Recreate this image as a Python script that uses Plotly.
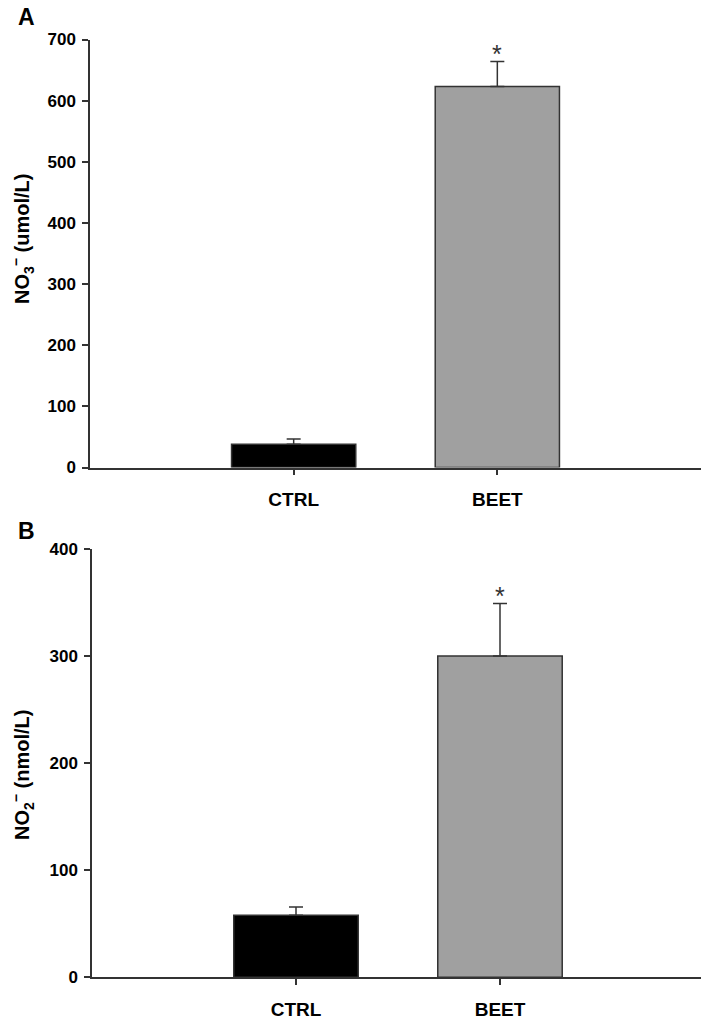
import plotly.graph_objects as go

categories = ["CTRL", "BEET"]
colors = ["#000000", "#a0a0a0"]

# Panel A: NO3- (umol/L)
no3_mean = [38, 623]
no3_se = [8.5, 41]
no3_sig = ["", "*"]

# Panel B: NO2- (nmol/L)
no2_mean = [58, 300]
no2_se = [7.7, 49]
no2_sig = ["", "*"]

yticks_a = [0, 100, 200, 300, 400, 500, 600, 700]
yticks_b = [0, 100, 200, 300, 400]

FONT = "Liberation Sans, Arial, sans-serif"
AX = "#333333"

# page offset (browser body margin) compensation
OFF = 8
W, H = 701, 1013


def px_x(p):
    return (p - OFF) / W


def px_y(p):
    return 1 - (p - OFF) / H


fig = go.Figure()

err_style = dict(type="data", symmetric=False, thickness=1.5, width=7, color=AX)

fig.add_trace(go.Bar(
    x=categories, y=no3_mean, width=0.61,
    marker=dict(color=colors, line=dict(color=AX, width=1.5)),
    error_y=dict(array=no3_se, arrayminus=[0, 0], **err_style),
    xaxis="x", yaxis="y", showlegend=False,
))
fig.add_trace(go.Bar(
    x=categories, y=no2_mean, width=0.61,
    marker=dict(color=colors, line=dict(color=AX, width=1.5)),
    error_y=dict(array=no2_se, arrayminus=[0, 0], **err_style),
    xaxis="x2", yaxis="y2", showlegend=False,
))

ax_common = dict(showline=True, linecolor=AX, linewidth=1.5, showgrid=False,
                 zeroline=False, ticks="outside", ticklen=6, tickwidth=1.5,
                 tickcolor=AX, automargin=False)
xfont = dict(size=19, family=FONT, weight="bold", color="#000000")
yfont = dict(size=17, family=FONT, weight="bold", color="#000000")

fig.update_layout(
    width=W, height=H,
    margin=dict(l=0, r=0, t=0, b=0),
    plot_bgcolor="white", paper_bgcolor="white",
    font=dict(family=FONT, color="#000000"),
    xaxis=dict(domain=[px_x(90), px_x(701)], anchor="y", range=[-1, 2],
               tickfont=xfont, ticklabelstandoff=8, **ax_common),
    yaxis=dict(domain=[px_y(467.5), px_y(39.5)], anchor="x", range=[0, 700],
               tickvals=yticks_a, tickfont=yfont, ticklabelstandoff=3, **ax_common),
    xaxis2=dict(domain=[px_x(92), px_x(704)], anchor="y2", range=[-1, 2],
                tickfont=xfont, ticklabelstandoff=8, **ax_common),
    yaxis2=dict(domain=[px_y(977.3), px_y(549)], anchor="x2", range=[0, 400],
                tickvals=yticks_b, tickfont=yfont, ticklabelstandoff=3, **ax_common),
)

anns = []
for xr, yr, means, ses, sigs in [("x", "y", no3_mean, no3_se, no3_sig),
                                 ("x2", "y2", no2_mean, no2_se, no2_sig)]:
    for c, m, s, g in zip(categories, means, ses, sigs):
        if g:
            anns.append(dict(x=c, y=m + s, xref=xr, yref=yr, text=g, showarrow=False,
                             yanchor="bottom", yshift=-8,
                             font=dict(size=25, family=FONT, color="#333333")))

labels = [
    (26, 17, "A", 0, 23),
    (26, 531, "B", 0, 23),
    (22, 239, "NO<sub>3</sub><sup>−</sup> (umol/L)", -90, 20),
    (22, 775, "NO<sub>2</sub><sup>−</sup> (nmol/L)", -90, 20),
]
for x, y, t, ang, sz in labels:
    anns.append(dict(x=px_x(x), y=px_y(y), xref="paper", yref="paper", text=t,
                     textangle=ang, showarrow=False, xanchor="center", yanchor="middle",
                     font=dict(size=sz, family=FONT, weight="bold", color="#000000")))

fig.update_layout(annotations=anns)
fig.write_html("out.html")
